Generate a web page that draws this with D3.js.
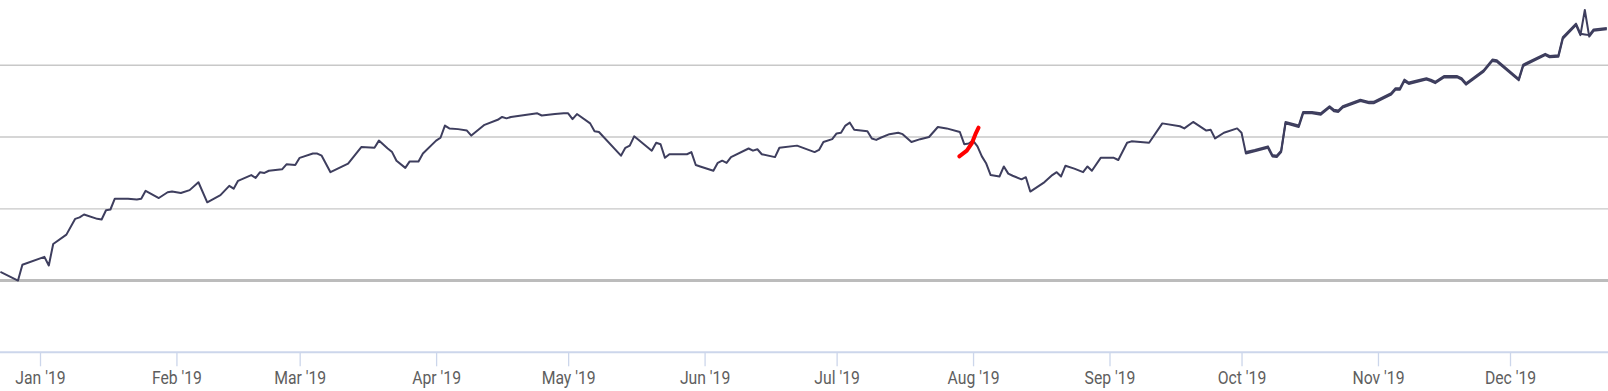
<!DOCTYPE html>
<html lang="en">
<head>
    <meta charset="UTF-8">
    <script src="https://d3js.org/d3.v7.min.js"></script>
    <title>Performance 2019</title>
    <style>
      body {
         margin: 0;
         background: #ffffff;
      }
      svg {
         display: block;
      }
    </style>
</head>
<body>
    <div id="wrapper"></div>

<script>

   // main series, dates + % change
   const dates = [
      "2018-12-23","2018-12-27","2018-12-28","2019-01-02","2019-01-03","2019-01-04","2019-01-07","2019-01-09","2019-01-10","2019-01-11",
      "2019-01-14","2019-01-15","2019-01-16","2019-01-17","2019-01-18","2019-01-21","2019-01-23","2019-01-24","2019-01-25","2019-01-28",
      "2019-01-30","2019-01-31","2019-02-02","2019-02-04","2019-02-06","2019-02-08","2019-02-11","2019-02-13","2019-02-14","2019-02-15",
      "2019-02-18","2019-02-19","2019-02-20","2019-02-21","2019-02-22","2019-02-25","2019-02-26","2019-02-28","2019-03-01","2019-03-04",
      "2019-03-05","2019-03-06","2019-03-08","2019-03-12","2019-03-15","2019-03-18","2019-03-19","2019-03-21","2019-03-22","2019-03-23",
      "2019-03-25","2019-03-26","2019-03-28","2019-03-29","2019-04-01","2019-04-02","2019-04-03","2019-04-04","2019-04-06","2019-04-08",
      "2019-04-09","2019-04-12","2019-04-15","2019-04-16","2019-04-17","2019-04-18","2019-04-24","2019-04-25","2019-04-28","2019-04-30",
      "2019-05-01","2019-05-02","2019-05-03","2019-05-06","2019-05-07","2019-05-08","2019-05-13","2019-05-14","2019-05-15","2019-05-16",
      "2019-05-20","2019-05-21","2019-05-22","2019-05-23","2019-05-24","2019-05-28","2019-05-29","2019-05-30","2019-05-31","2019-06-03",
      "2019-06-04","2019-06-05","2019-06-06","2019-06-07","2019-06-11","2019-06-12","2019-06-13","2019-06-14","2019-06-17","2019-06-18",
      "2019-06-22","2019-06-26","2019-06-27","2019-06-28","2019-06-30","2019-07-01","2019-07-02","2019-07-03","2019-07-04","2019-07-05",
      "2019-07-08","2019-07-09","2019-07-10","2019-07-11","2019-07-13","2019-07-15","2019-07-16","2019-07-18","2019-07-20","2019-07-22",
      "2019-07-24","2019-07-26","2019-07-29","2019-07-30","2019-07-31","2019-08-01","2019-08-02","2019-08-03","2019-08-04","2019-08-05",
      "2019-08-07","2019-08-08","2019-08-09","2019-08-10","2019-08-12","2019-08-13","2019-08-14","2019-08-17","2019-08-19","2019-08-20",
      "2019-08-21","2019-08-22","2019-08-24","2019-08-26","2019-08-27","2019-08-28","2019-08-30","2019-09-02","2019-09-03","2019-09-05",
      "2019-09-06","2019-09-10","2019-09-13","2019-09-17","2019-09-18","2019-09-20","2019-09-23","2019-09-24","2019-09-25","2019-09-27",
      "2019-09-30","2019-10-01","2019-10-02","2019-10-04","2019-10-07","2019-10-08","2019-10-09","2019-10-10","2019-10-11","2019-10-14",
      "2019-10-15","2019-10-17","2019-10-19","2019-10-21","2019-10-22","2019-10-23","2019-10-24","2019-10-28","2019-10-30","2019-10-31",
      "2019-11-04","2019-11-05","2019-11-06","2019-11-07","2019-11-08","2019-11-12","2019-11-13","2019-11-14","2019-11-16","2019-11-19",
      "2019-11-20","2019-11-21","2019-11-25","2019-11-27","2019-11-28","2019-12-03","2019-12-04","2019-12-09","2019-12-10","2019-12-12",
      "2019-12-13","2019-12-16","2019-12-17","2019-12-18","2019-12-19","2019-12-20","2019-12-23"
   ];
   const values = [
      1.2, 0.0, 2.2, 3.3, 2.1, 5.1, 6.4, 8.6, 8.8, 9.2,
      8.6, 8.5, 9.8, 9.9, 11.4, 11.4, 11.3, 11.4, 12.5, 11.5,
      12.3, 12.4, 12.2, 12.6, 13.7, 10.9, 11.9, 13.2, 12.8, 13.9,
      14.7, 14.3, 15.1, 15.0, 15.3, 15.5, 16.2, 16.1, 17.1, 17.7,
      17.7, 17.4, 15.1, 16.3, 18.6, 18.5, 19.5, 18.4, 17.9, 16.7,
      15.7, 16.6, 16.6, 17.7, 19.5, 19.9, 21.6, 21.2, 21.1, 20.9,
      20.2, 21.7, 22.4, 22.8, 22.6, 22.8, 23.3, 23.0, 23.2, 23.3,
      23.3, 22.5, 23.2, 21.9, 20.8, 20.7, 17.4, 18.5, 18.8, 20.1,
      18.1, 19.2, 19.0, 17.1, 17.6, 17.6, 17.9, 16.1, 15.9, 15.3,
      16.4, 16.7, 16.4, 17.2, 18.4, 18.1, 18.3, 17.6, 17.2, 18.5,
      18.8, 17.9, 18.2, 19.3, 19.7, 20.5, 20.6, 21.6, 22.0, 21.0,
      20.8, 19.8, 19.6, 19.9, 20.4, 20.6, 20.4, 19.3, 19.7, 20.0,
      21.4, 21.2, 20.7, 19.0, 19.1, 19.5, 18.7, 17.3, 16.3, 14.7,
      14.5, 15.9, 14.9, 14.6, 14.1, 14.4, 12.4, 13.6, 14.7, 15.1,
      14.5, 16.0, 15.6, 15.1, 15.9, 15.3, 17.1, 17.1, 16.8, 19.2,
      19.4, 19.2, 21.9, 21.5, 21.2, 22.1, 20.9, 21.0, 19.8, 20.6,
      21.2, 20.6, 17.7, 18.0, 18.5, 17.3, 17.2, 17.9, 21.9, 21.4,
      23.3, 23.3, 23.1, 24.1, 23.6, 23.5, 24.1, 25.0, 24.7, 24.7,
      25.9, 26.6, 26.6, 27.8, 27.4, 28.0, 27.8, 27.5, 28.3, 28.3,
      28.0, 27.3, 29.1, 30.6, 30.5, 27.9, 29.9, 31.4, 31.1, 31.2,
      33.7, 35.6, 34.2, 37.7, 34.0, 34.8, 35.0
   ];

   // second series (runs on top of the first from October)
   const dates2 = [
      "2019-10-02","2019-10-04","2019-10-07","2019-10-08","2019-10-09","2019-10-10","2019-10-11","2019-10-14","2019-10-15","2019-10-17",
      "2019-10-19","2019-10-21","2019-10-22","2019-10-23","2019-10-24","2019-10-28","2019-10-30","2019-10-31","2019-11-04","2019-11-05",
      "2019-11-06","2019-11-07","2019-11-08","2019-11-12","2019-11-13","2019-11-14","2019-11-16","2019-11-19","2019-11-20","2019-11-21",
      "2019-11-25","2019-11-27","2019-11-28","2019-12-03","2019-12-04","2019-12-09","2019-12-10","2019-12-12","2019-12-13","2019-12-16",
      "2019-12-17","2019-12-18","2019-12-19","2019-12-20","2019-12-23"
   ];
   const values2 = [
      17.9, 18.2, 18.7, 17.5, 17.4, 18.1, 22.1, 21.6, 23.5, 23.5,
      23.3, 24.3, 23.8, 23.7, 24.3, 25.2, 24.9, 24.9, 26.1, 26.8,
      26.8, 28.0, 27.6, 28.2, 28.0, 27.7, 28.5, 28.5, 28.2, 27.5,
      29.3, 30.8, 30.7, 28.1, 30.1, 31.6, 31.3, 31.4, 33.9, 35.8,
      34.4, 34.3, 34.2, 35.0, 35.2
   ];

   // red hand-drawn mark near Aug 1
   const markTimes = ["2019-07-28 21:00","2019-07-30 14:00","2019-07-31 17:00","2019-08-01 13:00","2019-08-02 06:00"];
   const markValues = [17.3, 18.1, 19.1, 20.4, 21.3];

   const monthTicks = ["2019-01-01","2019-02-01","2019-03-01","2019-04-01","2019-05-01","2019-06-01",
                       "2019-07-01","2019-08-01","2019-09-01","2019-10-01","2019-11-01","2019-12-01"];
   const tickLabels = ["Jan '19","Feb '19","Mar '19","Apr '19","May '19","Jun '19",
                       "Jul '19","Aug '19","Sep '19","Oct '19","Nov '19","Dec '19"];
   const gridValues = [0, 10, 20, 30];

   const parseDay = d3.utcParse("%Y-%m-%d");
   const parseTime = d3.utcParse("%Y-%m-%d %H:%M");

   let dimensions = {
      width: 1608,
      height: 391,
      axisY: 352.3,
      plotTop: -6.5
   };

   let series1 = dates.map((d, i) => ({date: parseDay(d), value: values[i]}));
   let series2 = dates2.map((d, i) => ({date: parseDay(d), value: values2[i]}));
   let mark = markTimes.map((d, i) => ({date: parseTime(d), value: markValues[i]}));
   let ticks = monthTicks.map(parseDay);

   const wrapper = d3.select("#wrapper")
      .append("svg")
         .attr("width", dimensions.width)
         .attr("height", dimensions.height);

   // first and last month tick fix the time scale, it runs past them on both sides
   const xScale = d3.scaleUtc()
      .domain([ticks[0], ticks[11]])
      .range([40, 1510]);

   const yScale = d3.scaleLinear()
      .domain([-10, 40])
      .range([dimensions.axisY, dimensions.plotTop]);

   // grid
   wrapper.append("g")
      .selectAll("line")
      .data(gridValues)
      .join("line")
         .attr("x1", 0)
         .attr("x2", dimensions.width)
         .attr("y1", d => yScale(d))
         .attr("y2", d => yScale(d))
         .attr("stroke", d => d === 0 ? "#bcbcbc" : "#c8c8c8")
         .attr("stroke-width", d => d === 0 ? 3 : 1.3);

   // x axis
   const xAxisGenerator = d3.axisBottom(xScale)
      .tickValues(ticks)
      .tickFormat((d, i) => tickLabels[i])
      .tickSize(14)
      .tickSizeOuter(0);

   const xAxis = wrapper.append("g")
      .attr("transform", "translate(0," + dimensions.axisY + ")")
      .call(xAxisGenerator);

   xAxis.select(".domain")
      .attr("d", "M0,0H" + dimensions.width)
      .attr("stroke", "#ccd6eb")
      .attr("stroke-width", 2);
   xAxis.selectAll(".tick line")
      .attr("stroke", "#ccd6eb")
      .attr("stroke-width", 1.3);
   // condensed look: squeeze the labels round their own centre
   xAxis.selectAll(".tick text")
      .attr("y", 19)
      .attr("transform", "scale(0.9,1)")
      .attr("fill", "#5e5e5e")
      .style("font-family", "Roboto, 'Noto Sans', sans-serif")
      .style("font-size", "17.5px");

   const line = d3.line()
      .x(d => xScale(d.date))
      .y(d => yScale(d.value));

   wrapper.append("path")
      .datum(series1)
      .attr("d", line)
      .attr("fill", "none")
      .attr("stroke", "#3e3e5e")
      .attr("stroke-width", 2)
      .attr("stroke-linejoin", "round");

   wrapper.append("path")
      .datum(series2)
      .attr("d", line)
      .attr("fill", "none")
      .attr("stroke", "#3e3e5e")
      .attr("stroke-width", 2)
      .attr("stroke-linejoin", "round");

   wrapper.append("path")
      .datum(mark)
      .attr("d", d3.line().x(d => xScale(d.date)).y(d => yScale(d.value)))
      .attr("fill", "none")
      .attr("stroke", "#ff0000")
      .attr("stroke-width", 4)
      .attr("stroke-linecap", "round")
      .attr("stroke-linejoin", "round");

</script>
</body>
</html>
